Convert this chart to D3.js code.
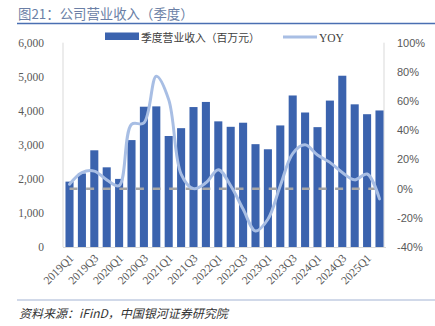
<!DOCTYPE html>
<html><head><meta charset="utf-8">
<script src="https://cdn.jsdelivr.net/npm/d3@7"></script>
<style>
html,body{margin:0;padding:0;background:#fff;}
svg{display:block;}
</style></head>
<body><svg id="c" width="435" height="326"></svg>
<script>
const quarters = ["2019Q1","2019Q2","2019Q3","2019Q4","2020Q1","2020Q2","2020Q3","2020Q4",
  "2021Q1","2021Q2","2021Q3","2021Q4","2022Q1","2022Q2","2022Q3","2022Q4",
  "2023Q1","2023Q2","2023Q3","2023Q4","2024Q1","2024Q2","2024Q3","2024Q4","2025Q1","2025Q2"];
const revenue = [1920,2160,2840,2340,2000,3140,4120,4130,3260,3490,4110,4260,3690,3530,3650,3020,
  2870,3570,4450,3950,3520,4300,5030,4190,3900,4010];
const yoy = [3,11,12,6,2,44,45,77,61,10,0,4,13,2,-14,-29,-21,2,24,30,23,18,11,6,10,-7];
const leftTicks = [0,1000,2000,3000,4000,5000,6000];
const rightTicks = [-40,-20,0,20,40,60,80,100];
const xLabels = ["2019Q1","2019Q3","2020Q1","2020Q3","2021Q1","2021Q3","2022Q1","2022Q3",
  "2023Q1","2023Q3","2024Q1","2024Q3","2025Q1"];
const titleText = "图21：公司营业收入（季度）";
const legendBar = "季度营业收入（百万元）";
const legendLine = "YOY";
const sourceText = "资料来源：iFinD，中国银河证券研究院";

const svg = d3.select("#c");
const L = 63, R = 386, T = 42.7, B = 247;
const x = d3.scaleBand().domain(quarters).range([L, R]).paddingInner(0.35).paddingOuter(0.2);
const yL = d3.scaleLinear().domain([0, 6000]).range([B, T]);
const yR = d3.scaleLinear().domain([-40, 100]).range([B, T]);
const cx = q => x(q) + x.bandwidth() / 2;

// title
svg.append("text").attr("x", 18).attr("y", 19).text(titleText)
  .attr("font-family", "Noto Sans CJK SC").attr("font-size", 13.4).attr("fill", "#6b7fa6");
svg.append("line").attr("x1", 17).attr("x2", 435).attr("y1", 23.5).attr("y2", 23.5)
  .attr("stroke", "#4a6fb2").attr("stroke-width", 1.5);

// frame
svg.append("line").attr("x1", L).attr("x2", L).attr("y1", T).attr("y2", B).attr("stroke", "#d9d9d9");
svg.append("line").attr("x1", R - 2).attr("x2", R - 2).attr("y1", T).attr("y2", B).attr("stroke", "#d9d9d9");

// bars
svg.append("g").selectAll("rect").data(quarters).join("rect")
  .attr("x", q => x(q)).attr("width", x.bandwidth())
  .attr("y", (q, i) => yL(revenue[i])).attr("height", (q, i) => B - yL(revenue[i]))
  .attr("fill", "#3b63ae");

svg.append("line").attr("x1", L).attr("x2", R).attr("y1", B + 0.5).attr("y2", B + 0.5)
  .attr("stroke", "#d9d9d9");

// zero dashed line
svg.append("path").datum(quarters)
  .attr("d", d3.line().x(q => cx(q)).y(() => yR(0)))
  .attr("fill", "none").attr("stroke", "#a6a6a6").attr("stroke-width", 2.5)
  .attr("stroke-dasharray", "8,8.6");

// yoy line
svg.append("path").datum(quarters)
  .attr("d", d3.line().x(q => cx(q)).y((q, i) => yR(yoy[i])).curve(d3.curveCatmullRom.alpha(0.5)))
  .attr("fill", "none").attr("stroke", "#a8bee4").attr("stroke-width", 3).attr("stroke-linecap", "round");

// axes
const gl = svg.append("g").attr("transform", `translate(${L - 16},0)`)
  .call(d3.axisLeft(yL).tickValues(leftTicks).tickSize(0).tickFormat(d3.format(",")));
gl.select(".domain").remove();
gl.selectAll("text").attr("font-family", "Liberation Serif").attr("font-size", 11.5).attr("fill", "#595959");

const gr = svg.append("g").attr("transform", `translate(397,0)`)
  .call(d3.axisRight(yR).tickValues(rightTicks).tickSize(0).tickPadding(0).tickFormat(d => d + "%"));
gr.select(".domain").remove();
gr.selectAll("text").attr("font-family", "Liberation Sans").attr("font-size", 11).attr("fill", "#595959");

// x labels
svg.append("g").selectAll("text").data(xLabels).join("text")
  .attr("transform", q => `translate(${cx(q) + 2},${B + 9}) rotate(-45)`)
  .attr("text-anchor", "end").attr("dy", "0.35em")
  .attr("font-family", "Liberation Serif").attr("font-size", 11.5).attr("fill", "#595959")
  .text(d => d);

// legend
svg.append("rect").attr("x", 105).attr("y", 32.5).attr("width", 34).attr("height", 7.5).attr("fill", "#3b63ae");
svg.append("text").attr("x", 141).attr("y", 41.5).text(legendBar)
  .attr("font-family", "Noto Sans CJK SC").attr("font-size", 10.8).attr("fill", "#404040");
svg.append("line").attr("x1", 283).attr("x2", 317).attr("y1", 37).attr("y2", 37)
  .attr("stroke", "#a8bee4").attr("stroke-width", 3);
svg.append("text").attr("x", 319).attr("y", 41.5).text(legendLine)
  .attr("font-family", "Liberation Serif").attr("font-size", 11.5).attr("fill", "#404040");

// source
svg.append("line").attr("x1", 17).attr("x2", 435).attr("y1", 300).attr("y2", 300)
  .attr("stroke", "#a3b3d3").attr("stroke-width", 1.2);
svg.append("text").attr("x", 19).attr("y", 318).text(sourceText)
  .attr("font-family", "Noto Sans CJK SC").attr("font-size", 12).attr("font-style", "italic").attr("fill", "#333");
</script></body></html>
